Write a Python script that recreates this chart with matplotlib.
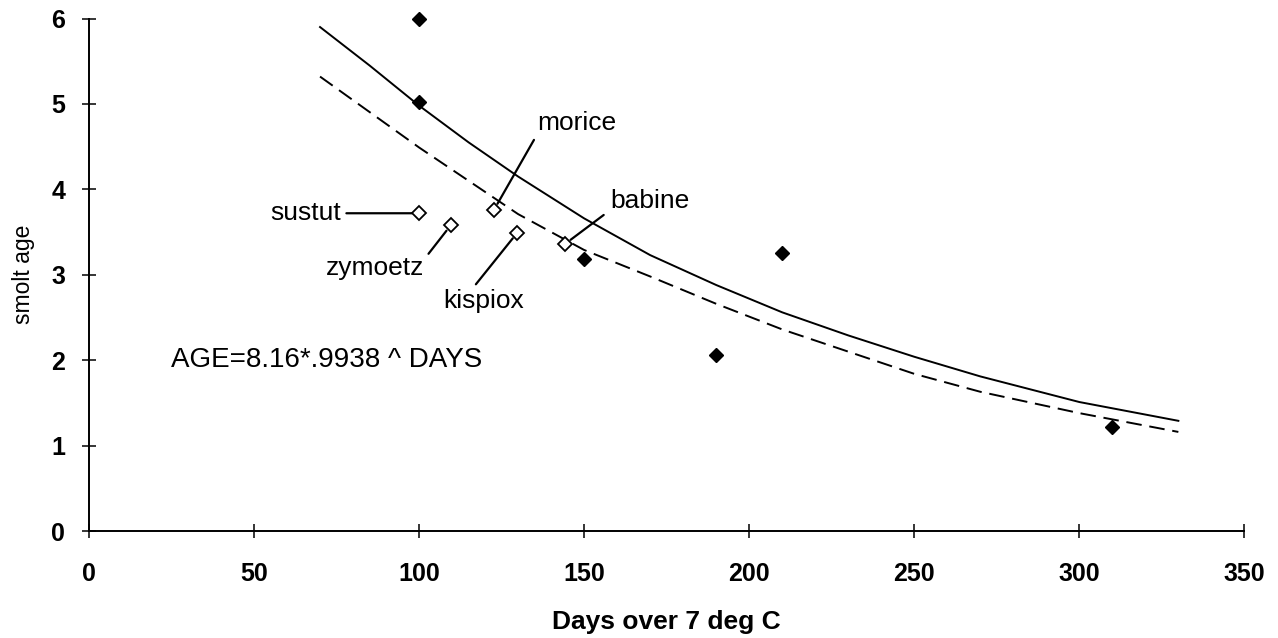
import matplotlib

matplotlib.use("Agg")
import matplotlib.pyplot as plt

plt.rcParams["font.family"] = ["Liberation Sans", "DejaVu Sans"]

# observed smolt ages (filled diamonds)
obs_days = [100, 100, 150, 190, 210, 310]
obs_age = [6.0, 5.02, 3.19, 2.06, 3.26, 1.22]

# named river systems (open diamonds)
rivers = ["sustut", "zymoetz", "morice", "kispiox", "babine"]
river_days = [100, 109.6, 122.7, 129.7, 144.2]
river_age = [3.72, 3.58, 3.76, 3.49, 3.36]

# label anchor positions (data units) and where the leader leaves the text
label_xy = [(76.3, 3.72), (101.5, 3.08), (135.7, 4.78), (107.2, 2.69), (157.8, 3.86)]
label_ha = ["right", "right", "left", "left", "left"]
label_rel = [(1.0, 0.5), (1.0, 0.85), (0.0, 0.0), (0.36, 1.0), (-0.05, 0.0)]

# solid fitted curve
fit_days = [70, 85, 100, 115, 130, 150, 170, 190, 210, 230, 250, 270, 300, 330]
fit_age = [5.90, 5.45, 4.98, 4.55, 4.15, 3.66, 3.23, 2.88, 2.56, 2.29, 2.04, 1.81, 1.51, 1.29]

# dashed curve (AGE=8.16*.9938^DAYS)
eq_days = [70, 100, 130, 150, 170, 190, 210, 230, 250, 270, 300, 330]
eq_age = [5.32, 4.49, 3.71, 3.29, 2.98, 2.66, 2.36, 2.10, 1.84, 1.63, 1.38, 1.16]

x_ticks = [0, 50, 100, 150, 200, 250, 300, 350]
y_ticks = [0, 1, 2, 3, 4, 5, 6]

fig = plt.figure(figsize=(12.78, 6.38), dpi=100)
ax = fig.add_axes([0.0696, 0.1677, 0.9041, 0.8033])

ax.plot(fit_days, fit_age, color="black", lw=1.4)
ax.plot(eq_days, eq_age, color="black", lw=1.4, linestyle=(0, (8, 4)))

ax.plot(obs_days, obs_age, "D", color="black", ms=7, linestyle="none",
        clip_on=False, zorder=4)
ax.plot(river_days, river_age, "D", mfc="white", mec="black", mew=1.3, ms=7.5,
        linestyle="none", clip_on=False, zorder=4)

for name, px, py, (tx, ty), ha, rel in zip(rivers, river_days, river_age,
                                            label_xy, label_ha, label_rel):
    ax.annotate(name, xy=(px, py), xytext=(tx, ty), textcoords="data",
                ha=ha, va="center", fontsize=19,
                arrowprops=dict(arrowstyle="-", color="black", lw=1.6,
                                shrinkA=2, shrinkB=5, relpos=rel))

ax.text(25, 2.0, "AGE=8.16*.9938 ^ DAYS", ha="left", va="center", fontsize=20)

ax.set_xlim(0, 350)
ax.set_ylim(0, 6)
ax.set_xticks(x_ticks)
ax.set_yticks(y_ticks)

for side in ["top", "right"]:
    ax.spines[side].set_visible(False)
for side in ["left", "bottom"]:
    ax.spines[side].set_linewidth(1.4)

ax.tick_params(direction="inout", length=10, width=1.1, labelsize=18)
ax.tick_params(axis="x", pad=17.5)
ax.tick_params(axis="y", pad=12)
for lab in ax.get_xticklabels() + ax.get_yticklabels():
    lab.set_fontweight("bold")

ax.set_xlabel("Days over 7 deg C", fontsize=19, fontweight="bold", labelpad=17)
ax.set_ylabel("smolt age", fontsize=16.5, labelpad=12)

fig.savefig("out.png", dpi=100)
